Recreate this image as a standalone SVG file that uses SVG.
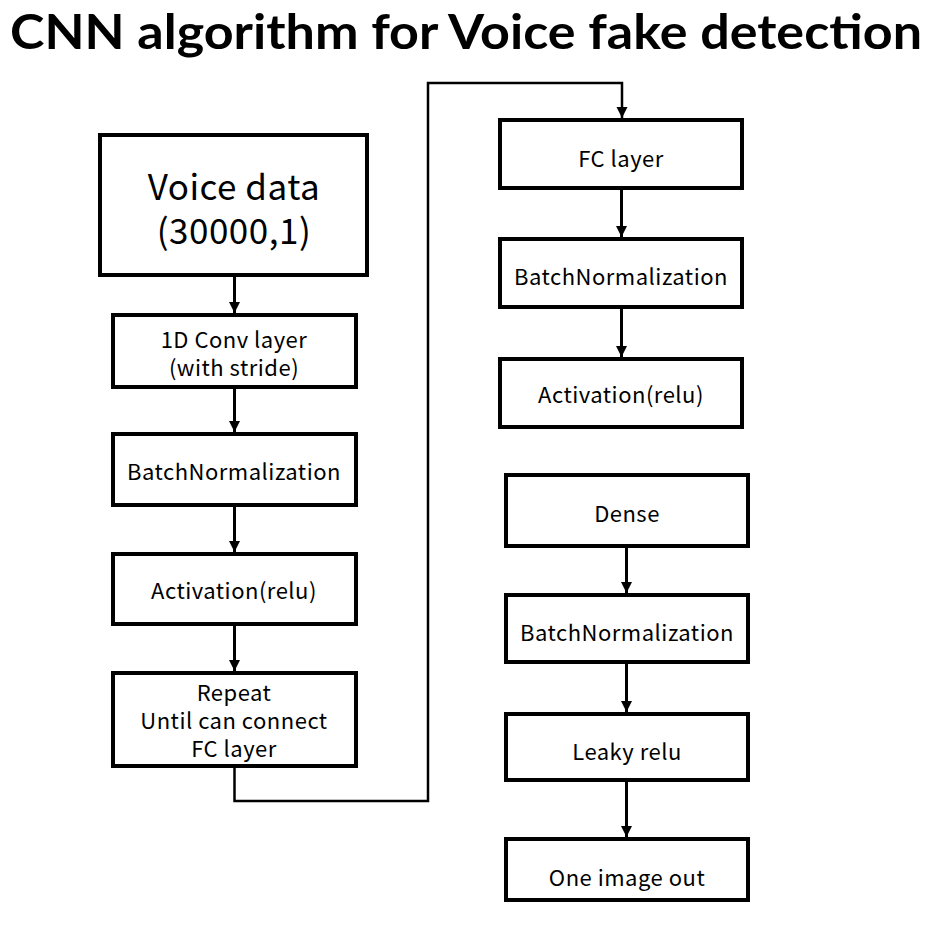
<svg xmlns="http://www.w3.org/2000/svg" width="936" height="927" viewBox="0 0 936 927">
<style>
.box{fill:#fff;stroke:#000;stroke-width:4}
.t{font-family:"Noto Sans CJK KR","Noto Sans","Liberation Sans",sans-serif;font-size:22px;letter-spacing:0.5px;fill:#000;text-anchor:middle;dominant-baseline:central}
.big{font-size:35px}
.title{font-family:Lato,"Noto Sans","Liberation Sans",sans-serif;font-weight:bold;font-size:48px;fill:#000}
.c{fill:none;stroke:#000;stroke-width:3}
.c2{fill:none;stroke:#000;stroke-width:2.5}
</style>
<defs>
<marker id="ah" markerUnits="userSpaceOnUse" markerWidth="11" markerHeight="12" refX="11" refY="5.5" orient="auto" viewBox="0 0 11 11">
<path d="M0,0 L11,5.5 L0,11 z" fill="#000"/>
</marker>
</defs>
<rect width="936" height="927" fill="#fff"/>
<text class="title" x="10" y="49" textLength="912" lengthAdjust="spacingAndGlyphs">CNN algorithm for Voice fake detection</text>

<g id="voice-data"><rect class="box" x="100" y="135" width="267" height="140"/><text class="t big" x="234" y="184">Voice data</text><text class="t big" x="234" y="228">(30000,1)</text></g>
<g id="conv"><rect class="box" x="113" y="315" width="243" height="72"/><text class="t" x="234" y="338">1D Conv layer</text><text class="t" x="234" y="366">(with stride)</text></g>
<g id="bn1"><rect class="box" x="113" y="434" width="243" height="71"/><text class="t" x="234" y="470">BatchNormalization</text></g>
<g id="act1"><rect class="box" x="113" y="554" width="243" height="70"/><text class="t" x="234" y="589">Activation(relu)</text></g>
<g id="repeat"><rect class="box" x="113" y="673" width="243" height="93"/><text class="t" x="234" y="691">Repeat</text><text class="t" x="234" y="719">Until can connect</text><text class="t" x="234" y="747">FC layer</text></g>

<g id="fc"><rect class="box" x="500" y="120" width="242" height="68"/><text class="t" x="621" y="157">FC layer</text></g>
<g id="bn2"><rect class="box" x="500" y="239" width="242" height="68"/><text class="t" x="621" y="275">BatchNormalization</text></g>
<g id="act2"><rect class="box" x="500" y="359" width="242" height="68"/><text class="t" x="621" y="393">Activation(relu)</text></g>

<g id="dense"><rect class="box" x="506" y="475" width="242" height="71"/><text class="t" x="627" y="512">Dense</text></g>
<g id="bn3"><rect class="box" x="506" y="595" width="242" height="67"/><text class="t" x="627" y="631">BatchNormalization</text></g>
<g id="leaky"><rect class="box" x="506" y="714" width="242" height="66"/><text class="t" x="627" y="750">Leaky relu</text></g>
<g id="out"><rect class="box" x="506" y="839" width="242" height="61"/><text class="t" x="627" y="876">One image out</text></g>

<g id="connectors">
<line class="c" x1="234.5" y1="277" x2="234.5" y2="313" marker-end="url(#ah)"/>
<line class="c" x1="234.5" y1="389" x2="234.5" y2="432" marker-end="url(#ah)"/>
<line class="c" x1="234.5" y1="507" x2="234.5" y2="552" marker-end="url(#ah)"/>
<line class="c" x1="234.5" y1="626" x2="234.5" y2="671" marker-end="url(#ah)"/>
<path class="c2" d="M234.5,768 V801 H428 V83 H622 V118" marker-end="url(#ah)"/>
<line class="c" x1="621.5" y1="190" x2="621.5" y2="237" marker-end="url(#ah)"/>
<line class="c" x1="621.5" y1="309" x2="621.5" y2="357" marker-end="url(#ah)"/>
<line class="c" x1="626.5" y1="548" x2="626.5" y2="593" marker-end="url(#ah)"/>
<line class="c" x1="626.5" y1="664" x2="626.5" y2="712" marker-end="url(#ah)"/>
<line class="c" x1="626.5" y1="782" x2="626.5" y2="837" marker-end="url(#ah)"/>
</g>
</svg>
